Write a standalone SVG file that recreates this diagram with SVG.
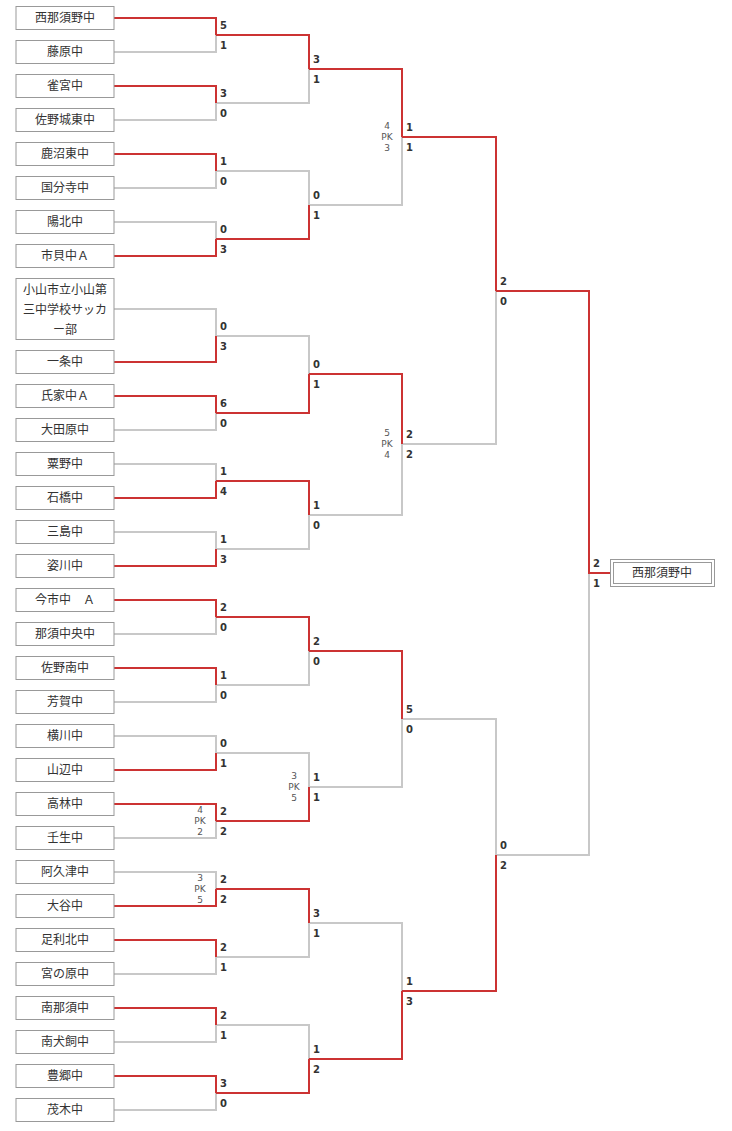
<svg xmlns="http://www.w3.org/2000/svg" width="732" height="1131" viewBox="0 0 732 1131">
<style>
.b{fill:#fff;stroke:#999;stroke-width:1}
.n{font-family:"Liberation Sans","Noto Sans CJK JP",sans-serif;font-size:12px;fill:#333;text-anchor:middle}
.s{font-family:"DejaVu Sans",sans-serif;font-size:10px;font-weight:bold;fill:#333}
.p{font-family:"DejaVu Sans",sans-serif;font-size:9px;fill:#555;text-anchor:middle}
.g{fill:none;stroke:#c8c8c8;stroke-width:2}
.r{fill:none;stroke:#cc3333;stroke-width:2}
</style>
<rect width="732" height="1131" fill="#fff"/>
<g id="connectors">
<path class="g" d="M114 52H216V35M114 120H216V103M114 188H216V171M114 222H216V239M114 309H216V336M114 430H216V413M114 464H216V481M114 532H216V549M114 634H216V617M114 702H216V685M114 736H216V753M114 838H216V821M114 872H216V889M114 974H216V957M114 1042H216V1025M114 1110H216V1093
M216 103H309V69M216 171H309V205M216 336H309V374M216 549H309V515M216 685H309V651M216 753H309V787M216 957H309V923M216 1025H309V1059
M309 205H402V137M309 515H402V444M309 787H402V719M309 923H402V991
M402 444H496V291M402 719H496V855M496 855H589V573"/>
<path class="r" d="M114 18H216V35M114 86H216V103M114 154H216V171M114 256H216V239M114 362H216V336M114 396H216V413M114 498H216V481M114 566H216V549M114 600H216V617M114 668H216V685M114 770H216V753M114 804H216V821M114 906H216V889M114 940H216V957M114 1008H216V1025M114 1076H216V1093
M216 35H309V69M216 239H309V205M216 413H309V374M216 481H309V515M216 617H309V651M216 821H309V787M216 889H309V923M216 1093H309V1059
M309 69H402V137M309 374H402V444M309 651H402V719M309 1059H402V991
M402 137H496V291M402 991H496V855M496 291H589V573H610"/>
</g>
<g id="scores">
<text class="s" x="220" y="29">5</text><text class="s" x="220" y="49">1</text>
<text class="s" x="220" y="97">3</text><text class="s" x="220" y="117">0</text>
<text class="s" x="220" y="165">1</text><text class="s" x="220" y="185">0</text>
<text class="s" x="220" y="233">0</text><text class="s" x="220" y="253">3</text>
<text class="s" x="220" y="330">0</text><text class="s" x="220" y="350">3</text>
<text class="s" x="220" y="407">6</text><text class="s" x="220" y="427">0</text>
<text class="s" x="220" y="475">1</text><text class="s" x="220" y="495">4</text>
<text class="s" x="220" y="543">1</text><text class="s" x="220" y="563">3</text>
<text class="s" x="220" y="611">2</text><text class="s" x="220" y="631">0</text>
<text class="s" x="220" y="679">1</text><text class="s" x="220" y="699">0</text>
<text class="s" x="220" y="747">0</text><text class="s" x="220" y="767">1</text>
<text class="s" x="220" y="815">2</text><text class="s" x="220" y="835">2</text>
<text class="s" x="220" y="883">2</text><text class="s" x="220" y="903">2</text>
<text class="s" x="220" y="951">2</text><text class="s" x="220" y="971">1</text>
<text class="s" x="220" y="1019">2</text><text class="s" x="220" y="1039">1</text>
<text class="s" x="220" y="1087">3</text><text class="s" x="220" y="1107">0</text>
<text class="s" x="313" y="63">3</text><text class="s" x="313" y="83">1</text>
<text class="s" x="313" y="199">0</text><text class="s" x="313" y="219">1</text>
<text class="s" x="313" y="368">0</text><text class="s" x="313" y="388">1</text>
<text class="s" x="313" y="509">1</text><text class="s" x="313" y="529">0</text>
<text class="s" x="313" y="645">2</text><text class="s" x="313" y="665">0</text>
<text class="s" x="313" y="781">1</text><text class="s" x="313" y="801">1</text>
<text class="s" x="313" y="917">3</text><text class="s" x="313" y="937">1</text>
<text class="s" x="313" y="1053">1</text><text class="s" x="313" y="1073">2</text>
<text class="s" x="406" y="131">1</text><text class="s" x="406" y="151">1</text>
<text class="s" x="406" y="438">2</text><text class="s" x="406" y="458">2</text>
<text class="s" x="406" y="713">5</text><text class="s" x="406" y="733">0</text>
<text class="s" x="406" y="985">1</text><text class="s" x="406" y="1005">3</text>
<text class="s" x="500" y="285">2</text><text class="s" x="500" y="305">0</text>
<text class="s" x="500" y="849">0</text><text class="s" x="500" y="869">2</text>
<text class="s" x="593" y="567">2</text><text class="s" x="593" y="587">1</text>
<text class="p" x="200" y="813">4</text><text class="p" x="200" y="824">PK</text><text class="p" x="200" y="835">2</text>
<text class="p" x="200" y="881">3</text><text class="p" x="200" y="892">PK</text><text class="p" x="200" y="903">5</text>
<text class="p" x="294" y="779">3</text><text class="p" x="294" y="790">PK</text><text class="p" x="294" y="801">5</text>
<text class="p" x="387" y="129">4</text><text class="p" x="387" y="140">PK</text><text class="p" x="387" y="151">3</text>
<text class="p" x="387" y="436">5</text><text class="p" x="387" y="447">PK</text><text class="p" x="387" y="458">4</text>
</g>
<g id="n0"><rect class="b" x="16" y="6.5" width="98" height="23"/><text class="n" x="65" y="22">西那須野中</text></g>
<g id="n1"><rect class="b" x="16" y="40.5" width="98" height="23"/><text class="n" x="65" y="56">藤原中</text></g>
<g id="n2"><rect class="b" x="16" y="74.5" width="98" height="23"/><text class="n" x="65" y="90">雀宮中</text></g>
<g id="n3"><rect class="b" x="16" y="108.5" width="98" height="23"/><text class="n" x="65" y="124">佐野城東中</text></g>
<g id="n4"><rect class="b" x="16" y="142.5" width="98" height="23"/><text class="n" x="65" y="158">鹿沼東中</text></g>
<g id="n5"><rect class="b" x="16" y="176.5" width="98" height="23"/><text class="n" x="65" y="192">国分寺中</text></g>
<g id="n6"><rect class="b" x="16" y="210.5" width="98" height="23"/><text class="n" x="65" y="226">陽北中</text></g>
<g id="n7"><rect class="b" x="16" y="244.5" width="98" height="23"/><text class="n" x="65" y="260">市貝中Ａ</text></g>
<g id="n8"><rect class="b" x="16" y="278.5" width="98" height="61"/><text class="n" x="65" y="294">小山市立小山第</text><text class="n" x="65" y="314">三中学校サッカ</text><text class="n" x="65" y="334">ー部</text></g>
<g id="n9"><rect class="b" x="16" y="350.5" width="98" height="23"/><text class="n" x="65" y="366">一条中</text></g>
<g id="n10"><rect class="b" x="16" y="384.5" width="98" height="23"/><text class="n" x="65" y="400">氏家中Ａ</text></g>
<g id="n11"><rect class="b" x="16" y="418.5" width="98" height="23"/><text class="n" x="65" y="434">大田原中</text></g>
<g id="n12"><rect class="b" x="16" y="452.5" width="98" height="23"/><text class="n" x="65" y="468">粟野中</text></g>
<g id="n13"><rect class="b" x="16" y="486.5" width="98" height="23"/><text class="n" x="65" y="502">石橋中</text></g>
<g id="n14"><rect class="b" x="16" y="520.5" width="98" height="23"/><text class="n" x="65" y="536">三島中</text></g>
<g id="n15"><rect class="b" x="16" y="554.5" width="98" height="23"/><text class="n" x="65" y="570">姿川中</text></g>
<g id="n16"><rect class="b" x="16" y="588.5" width="98" height="23"/><text class="n" x="65" y="604">今市中　Ａ</text></g>
<g id="n17"><rect class="b" x="16" y="622.5" width="98" height="23"/><text class="n" x="65" y="638">那須中央中</text></g>
<g id="n18"><rect class="b" x="16" y="656.5" width="98" height="23"/><text class="n" x="65" y="672">佐野南中</text></g>
<g id="n19"><rect class="b" x="16" y="690.5" width="98" height="23"/><text class="n" x="65" y="706">芳賀中</text></g>
<g id="n20"><rect class="b" x="16" y="724.5" width="98" height="23"/><text class="n" x="65" y="740">横川中</text></g>
<g id="n21"><rect class="b" x="16" y="758.5" width="98" height="23"/><text class="n" x="65" y="774">山辺中</text></g>
<g id="n22"><rect class="b" x="16" y="792.5" width="98" height="23"/><text class="n" x="65" y="808">高林中</text></g>
<g id="n23"><rect class="b" x="16" y="826.5" width="98" height="23"/><text class="n" x="65" y="842">壬生中</text></g>
<g id="n24"><rect class="b" x="16" y="860.5" width="98" height="23"/><text class="n" x="65" y="876">阿久津中</text></g>
<g id="n25"><rect class="b" x="16" y="894.5" width="98" height="23"/><text class="n" x="65" y="910">大谷中</text></g>
<g id="n26"><rect class="b" x="16" y="928.5" width="98" height="23"/><text class="n" x="65" y="944">足利北中</text></g>
<g id="n27"><rect class="b" x="16" y="962.5" width="98" height="23"/><text class="n" x="65" y="978">宮の原中</text></g>
<g id="n28"><rect class="b" x="16" y="996.5" width="98" height="23"/><text class="n" x="65" y="1012">南那須中</text></g>
<g id="n29"><rect class="b" x="16" y="1030.5" width="98" height="23"/><text class="n" x="65" y="1046">南犬飼中</text></g>
<g id="n30"><rect class="b" x="16" y="1064.5" width="98" height="23"/><text class="n" x="65" y="1080">豊郷中</text></g>
<g id="n31"><rect class="b" x="16" y="1098.5" width="98" height="23"/><text class="n" x="65" y="1114">茂木中</text></g>
<g id="champion"><rect class="b" x="610.5" y="559.5" width="104" height="27"/><rect class="b" x="613.5" y="562.5" width="98" height="21"/><text class="n" x="662" y="577">西那須野中</text></g>
</svg>
